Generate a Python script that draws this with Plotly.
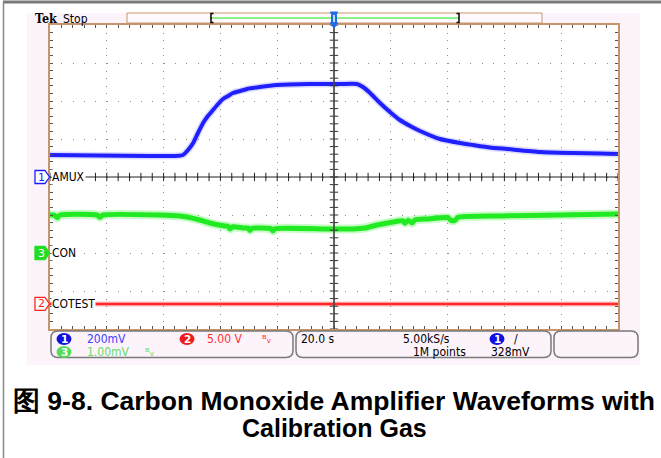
import numpy as np
import plotly.graph_objects as go

# ---------------- data (time in s, amplitude in screen divisions) ----------------
t_ch1 = [-100, -82.4, -64.8, -56.0, -53.2, -51.4, -49.6, -47.9, -46.1, -44.4, -42.6, -40.8,
         -39.1, -37.3, -35.6, -33.1, -30.6, -26.1, -20.1, -8.5, 2.1, 8.1, 10.2, 12.7, 16.2,
         19.7, 23.2, 26.8, 30.3, 37.3, 44.4, 48.9, 54.9, 60.9, 72.5, 84.2, 93.7, 100]
ch1_div = [0.58, 0.566, 0.553, 0.553, 0.579, 0.711, 0.895, 1.158, 1.421, 1.605, 1.763, 1.921,
           2.053, 2.132, 2.211, 2.263, 2.316, 2.368, 2.421, 2.447, 2.447, 2.447, 2.368, 2.211,
           1.947, 1.711, 1.5, 1.342, 1.211, 1.0, 0.895, 0.842, 0.776, 0.737, 0.658, 0.632,
           0.618, 0.605]

t_ch3 = [-100, -98.6, -97.5, -96.5, -83.5, -82.4, -81.3, -61.3, -54.2, -51.8, -47.2, -43.7,
         -38.4, -37.3, -36.6, -35.6, -32.0, -30.3, -29.6, -28.9, -22.2, -21.5, -20.8, -2.5,
         6.7, 10.9, 15.1, 20.8, 24.3, 25.0, 26.1, 27.5, 28.5, 32.7, 40.1, 41.2, 42.6, 43.7,
         58.5, 79.6, 100]
ch3_div = [-1.0, -1.0, -1.07, -1.0, -1.0, -1.06, -1.0, -1.0, -1.026, -1.053, -1.132, -1.211,
           -1.289, -1.30, -1.37, -1.31, -1.342, -1.345, -1.41, -1.35, -1.36, -1.42, -1.36, -1.368,
           -1.368, -1.342, -1.263, -1.184, -1.15, -1.22, -1.14, -1.21, -1.13, -1.105, -1.07, -1.14,
           -1.14, -1.06, -1.026, -1.0, -0.974]

t_ch2 = [-100, 100]
ch2_div = [-3.34, -3.34]

ch_names = ["1", "3", "2"]
ch_labels = ["AMUX", "CON", "COTEST"]
ch_levels = [0.0, -2.0, -3.34]
ch_colors = ["#1c1cff", "#22dd22", "#ff2222"]

status_row1 = ["200mV", "5.00 V", "20.0 s", "5.00kS/s", "328mV"]
status_row2 = ["1.00mV", "1M points"]
bw_symbol = "ᴮᵥ"
caption1 = "图 9-8. Carbon Monoxide Amplifier Waveforms with"
caption2 = "Calibration Gas"

# ---------------- geometry helpers ----------------
W, H = 661, 458
L, R, T, B = 50, 618, 25, 329


def px(x):
    return (x - L) / (R - L)


def py(y):
    return (B - y) / (B - T)


def ppath(pts, close=True):
    s = "M " + " L ".join(f"{px(x):.5f},{py(y):.5f}" for x, y in pts)
    return s + (" Z" if close else "")


def rrect(x0, y0, x1, y1, r):
    P = lambda x, y: f"{px(x):.5f},{py(y):.5f}"
    return (f"M {P(x0 + r, y0)} L {P(x1 - r, y0)} Q {P(x1, y0)} {P(x1, y0 + r)} "
            f"L {P(x1, y1 - r)} Q {P(x1, y1)} {P(x1 - r, y1)} L {P(x0 + r, y1)} "
            f"Q {P(x0, y1)} {P(x0, y1 - r)} L {P(x0, y0 + r)} Q {P(x0, y0)} {P(x0 + r, y0)} Z")


PINK = "#fdf3fb"
BROWN = "#c8956a"
FONT = "Liberation Sans Narrow, DejaVu Sans Condensed, Arial Narrow, sans-serif"

fig = go.Figure()

# traces: halo + core
for t, v, col, halo, w1, w2 in [
    (t_ch1, ch1_div, "#2020ff", "rgba(90,90,255,0.22)", 4, 7),
    (t_ch3, ch3_div, "#22ea22", "rgba(70,240,70,0.30)", 5, 9),
    (t_ch2, ch2_div, "#ff2a2a", "rgba(255,80,80,0.35)", 2.5, 5),
]:
    fig.add_trace(go.Scatter(x=t, y=v, mode="lines", line=dict(color=halo, width=w2, shape="spline", smoothing=0.5),
                             hoverinfo="skip", showlegend=False))
    fig.add_trace(go.Scatter(x=t, y=v, mode="lines", line=dict(color=col, width=w1, shape="spline", smoothing=0.5),
                             hoverinfo="skip", showlegend=False))

# centre crosshair ticks
xt = np.arange(-100, 100.1, 4)
fig.add_trace(go.Scatter(x=xt, y=np.zeros_like(xt), mode="markers",
                         marker=dict(symbol="line-ns", size=6, line=dict(color="#222", width=1)),
                         hoverinfo="skip", showlegend=False))
yt = np.arange(-4, 4.01, 0.2)
fig.add_trace(go.Scatter(x=np.zeros_like(yt), y=yt, mode="markers",
                         marker=dict(symbol="line-ew", size=6, line=dict(color="#333", width=1)),
                         hoverinfo="skip", showlegend=False))

shapes = []
# pink background and white screen
shapes.append(dict(type="rect", xref="paper", yref="paper", x0=px(27), x1=px(640), y0=py(365), y1=py(13),
                   fillcolor=PINK, line=dict(width=0), layer="below"))
shapes.append(dict(type="rect", xref="paper", yref="paper", x0=0, x1=1, y0=0, y1=1,
                   fillcolor="white", line=dict(width=0), layer="below"))
# outer gray frame
shapes.append(dict(type="line", xref="paper", yref="paper", x0=px(3), x1=px(661), y0=py(2), y1=py(2),
                   line=dict(color="#7a7a7a", width=3)))
shapes.append(dict(type="line", xref="paper", yref="paper", x0=px(3.5), x1=px(3.5), y0=py(2), y1=py(458),
                   line=dict(color="#8a8a8a", width=1.5)))
# centre lines
shapes.append(dict(type="line", xref="x", yref="y", x0=-100, x1=100, y0=0, y1=0,
                   line=dict(color="#222", width=1)))
shapes.append(dict(type="line", xref="x", yref="y", x0=0, x1=0, y0=-4, y1=4,
                   line=dict(color="rgba(70,70,70,0.85)", width=2)))
# top record bar
shapes.append(dict(type="rect", xref="paper", yref="paper", x0=px(127), x1=px(542), y0=py(23), y1=py(13),
                   fillcolor="#fffafd", line=dict(color=BROWN, width=1)))
shapes.append(dict(type="line", xref="paper", yref="paper", x0=px(211), x1=px(459), y0=py(18), y1=py(18),
                   line=dict(color="#66ee66", width=1.5)))
shapes.append(dict(type="path", xref="paper", yref="paper",
                   path=ppath([(213.5, 13.5), (211, 13.5), (211, 22.5), (213.5, 22.5)], close=False),
                   line=dict(color="black", width=1.5)))
shapes.append(dict(type="path", xref="paper", yref="paper",
                   path=ppath([(456.5, 13.5), (459, 13.5), (459, 22.5), (456.5, 22.5)], close=False),
                   line=dict(color="black", width=1.5)))
# trigger position marker
shapes.append(dict(type="path", xref="paper", yref="paper",
                   path=ppath([(330.5, 12), (337.5, 12), (336.5, 14.5), (336.5, 23), (338, 23), (334, 28), (330, 23), (331.5, 23), (331.5, 14.5)]),
                   fillcolor="#1e6ee8", line=dict(color="#1e6ee8", width=1)))
shapes.append(dict(type="line", xref="paper", yref="paper", x0=px(334), x1=px(334), y0=py(15), y1=py(22),
                   line=dict(color="white", width=1.5)))

# channel flags
for name, lvl, col in zip(ch_names, ch_levels, ch_colors):
    d = 6.5 / 38
    fill = col if name == "3" else "white"
    shapes.append(dict(type="path", xref="paper", yref="y",
                       path=(f"M {px(35)},{lvl + d} L {px(45)},{lvl + d} L {px(49.5)},{lvl} "
                             f"L {px(45)},{lvl - d} L {px(35)},{lvl - d} Z"),
                       fillcolor=fill, line=dict(color=col, width=1.3)))

# status boxes
for x0, x1 in [(51, 293), (296, 551), (554, 638)]:
    shapes.append(dict(type="path", xref="paper", yref="paper", path=rrect(x0, 331, x1, 357.5, 7),
                       fillcolor=PINK, line=dict(color="#7a7a7a", width=1.5)))
# status circles
circles = [(64, 339, "#1010e0", "1"), (187, 339, "#ee1c1c", "2"), (64, 352, "#55dd55", "3"), (497, 339, "#1010e0", "1")]
for cx, cy, col, _ in circles:
    shapes.append(dict(type="circle", xref="paper", yref="paper", x0=px(cx - 7.5), x1=px(cx + 7.5),
                       y0=py(cy + 6), y1=py(cy - 6), fillcolor=col, line=dict(width=0)))

ann = []


def text(x, y, s, color="black", size=11, anchor="left", family=FONT, bg=None, yref="paper"):
    d = dict(xref="paper", yref=yref, x=px(x), y=(py(y) if yref == "paper" else y), text=s, showarrow=False,
             xanchor=anchor, yanchor="middle", font=dict(family=family, size=size, color=color))
    if bg:
        d["bgcolor"] = bg
        d["borderpad"] = 0
    ann.append(d)


# header
text(33, 18, "<b>Tek</b>", size=12.5, family="DejaVu Serif Condensed, DejaVu Serif, Liberation Serif, serif")
text(61, 18.5, "Stop", size=12)

# channel labels
for lab, lvl in zip(ch_labels, ch_levels):
    text(51, lvl, lab, size=12, bg="white", yref="y")
for name, lvl, col in zip(ch_names, ch_levels, ch_colors):
    text(41.5, lvl, name, color=("white" if name == "3" else col), size=11, anchor="center",
         family="DejaVu Sans, sans-serif", yref="y")

# status numbers in circles
for cx, cy, col, n in circles:
    text(cx, cy, f"<b>{n}</b>", color="white", size=10.5, anchor="center", family="DejaVu Sans, sans-serif")

text(85, 339, status_row1[0], color="#4040ff", size=12)
text(205, 339, status_row1[1], color="#ff3030", size=12)
text(260, 339, bw_symbol, color="#ff3030", size=11, family="DejaVu Sans, sans-serif")
text(85, 352, status_row2[0], color="#66dd66", size=12)
text(143, 352, bw_symbol, color="#66dd66", size=11, family="DejaVu Sans, sans-serif")
text(299, 339, status_row1[2], size=12)
text(401, 339, status_row1[3], size=12)
text(512, 339, "/", size=12)
text(411, 352, status_row2[1], size=12)
text(489, 352, status_row1[4], size=12)

# caption
text(334, 401, f"<b>{caption1}</b>", size=26.5, anchor="center", family="Liberation Sans, Arial, sans-serif")
text(334, 428, f"<b>{caption2}</b>", size=25, anchor="center", family="Liberation Sans, Arial, sans-serif")

axis_common = dict(showticklabels=False, zeroline=False, showline=True, linecolor=BROWN, linewidth=1.5,
                   mirror="allticks", ticks="inside", ticklen=3, tickcolor="#555", tickwidth=1,
                   gridcolor="#8c8c8c", gridwidth=1, fixedrange=True)

fig.update_layout(
    width=W, height=H,
    margin=dict(l=L, r=W - R, t=T, b=H - B),
    paper_bgcolor="white", plot_bgcolor="white",
    shapes=shapes, annotations=ann, showlegend=False,
    xaxis=dict(range=[-100, 100], dtick=20, griddash="1px,6.6px",
               minor=dict(dtick=4, ticks="inside", ticklen=3, tickcolor="#555", showgrid=False), **axis_common),
    yaxis=dict(range=[-4, 4], dtick=1, griddash="1px,10.36px",
               minor=dict(dtick=0.2, ticks="inside", ticklen=3, tickcolor="#555", showgrid=False), **axis_common),
)

fig.write_html("out.html", config={"displayModeBar": False},
               post_script="document.body.style.margin='0';document.body.style.overflow='hidden';")
